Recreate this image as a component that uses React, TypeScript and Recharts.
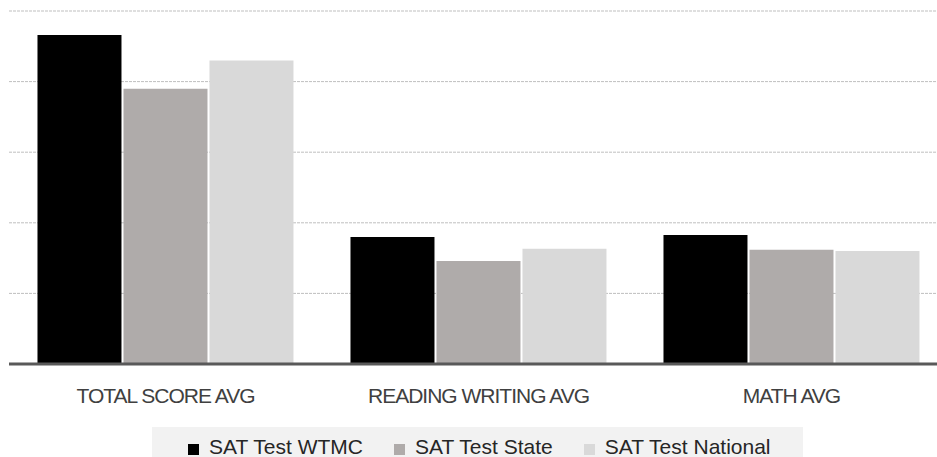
import React from "react";
import { BarChart, Bar, XAxis, YAxis, CartesianGrid, Legend } from "recharts";

const categories = ["TOTAL SCORE AVG", "READING WRITING AVG", "MATH AVG"];
const wtmc = [1165, 450, 457];
const state = [975, 365, 405];
const national = [1075, 408, 400];
const yTicks = [0, 250, 500, 750, 1000, 1250];

const seriesNames = ["SAT Test WTMC", "SAT Test State", "SAT Test National"];
const seriesColors = ["#000000", "#afabaa", "#d9d9d9"];

const data = categories.map((c, i) => ({
  name: c,
  wtmc: wtmc[i],
  state: state[i],
  national: national[i],
}));

const FONT = "'Liberation Sans', Arial, sans-serif";

const LegendContent = () => (
  <div
    style={{
      width: 651,
      height: 40,
      background: "#f2f2f2",
      display: "flex",
      alignItems: "flex-start",
      fontFamily: FONT,
      fontSize: 21,
      lineHeight: "21px",
      color: "#262626",
      boxSizing: "border-box",
      paddingLeft: 36,
      paddingTop: 9,
    }}
  >
    {seriesNames.map((n, i) => (
      <div key={n} style={{ display: "flex", alignItems: "flex-start", marginRight: 31 }}>
        <span
          style={{
            display: "inline-block",
            width: 11,
            height: 11,
            background: seriesColors[i],
            marginRight: 10,
            marginTop: 8,
          }}
        />
        <span style={{ whiteSpace: "nowrap" }}>{n}</span>
      </div>
    ))}
  </div>
);

export default function App() {
  return (
    <div
      style={{
        position: "absolute",
        left: 0,
        top: 0,
        width: 937,
        height: 457,
        overflow: "hidden",
        background: "#fff",
      }}
    >
      <BarChart
        width={948}
        height={470}
        data={data}
        margin={{ top: 11, right: 0, left: 9, bottom: 0 }}
        barCategoryGap="9.1%"
        barGap={2}
      >
        <CartesianGrid vertical={false} stroke="#bfbfbf" strokeDasharray="3 1" />
        <YAxis hide domain={[0, 1250]} ticks={yTicks} />
        <XAxis
          dataKey="name"
          height={66}
          axisLine={{ stroke: "#595959", strokeWidth: 3 }}
          tickLine={false}
          tickSize={0}
          tickMargin={24}
          tick={{ fill: "#404040", fontSize: 21, letterSpacing: -1, fontFamily: FONT }}
        />
        <Legend
          verticalAlign="bottom"
          height={40}
          content={<LegendContent />}
          wrapperStyle={{ left: 152, width: 651, bottom: 3 }}
        />
        <Bar dataKey="wtmc" name={seriesNames[0]} fill={seriesColors[0]} isAnimationActive={false} />
        <Bar dataKey="state" name={seriesNames[1]} fill={seriesColors[1]} isAnimationActive={false} />
        <Bar dataKey="national" name={seriesNames[2]} fill={seriesColors[2]} isAnimationActive={false} />
      </BarChart>
    </div>
  );
}
